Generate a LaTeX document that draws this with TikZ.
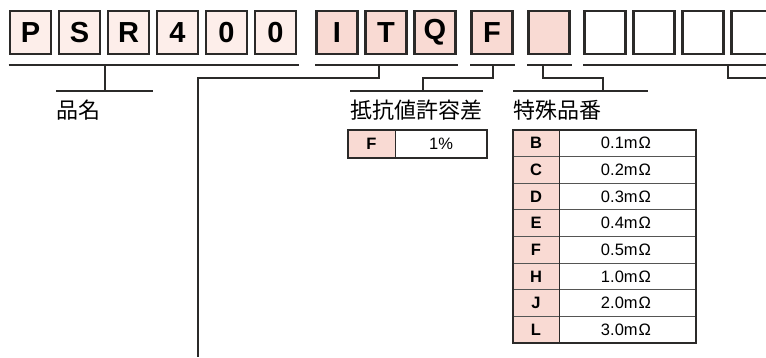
\documentclass[tikz,border=0pt]{standalone}
\usepackage{fontspec}
\setmainfont{Liberation Sans}
\newfontfamily\jpfont{Noto Sans CJK JP}
\definecolor{rosachiaro}{HTML}{FDEEEA}
\definecolor{rosa}{HTML}{F9DAD3}
\definecolor{bordo}{HTML}{2B2A29}
\tikzset{
  casella/.style={draw=bordo, line width=2.4pt, minimum width=41pt, minimum height=42.5pt, inner sep=0pt, font=\fontsize{29}{31}\selectfont\bfseries},
  staffa/.style={draw=bordo, line width=2.6pt},
  etichetta/.style={anchor=west, inner sep=0pt, font=\jpfont\fontsize{22}{24}\selectfont},
  chiave/.style={inner sep=0pt, font=\fontsize{16.5}{18}\selectfont\bfseries},
  valore/.style={inner sep=0pt, font=\fontsize{16.5}{18}\selectfont},
}
\begin{document}
\begin{tikzpicture}[x=1pt,y=-1pt]
    \useasboundingbox (0,0) rectangle (766,357);

    %caselle del codice
    \foreach \c [count=\i] in {P,S,R,4,0,0}
        \node[casella, fill=rosachiaro] (c\i) at ({30.5+49*(\i-1)},32.5) {\c};
    \node[casella, fill=rosa] (ci) at (337,32.5) {I};
    \node[casella, fill=rosa] (ct) at (386,32.5) {T};
    \node[casella, fill=rosa] (cq) at (435,32.5) {Q};
    \node[casella, fill=rosa] (cf) at (492,32.5) {F};
    \node[casella, fill=rosa] (cs) at (549,32.5) {};
    \foreach \x [count=\i] in {605,654,703,752}
        \node[casella, fill=white] (e\i) at (\x,32.5) {};

    %staffe
    \draw[staffa] (8.5,65)--(298.5,65);
    \draw[staffa] (105,65)--(105,91);
    \draw[staffa] (56,91)--(153,91);
    \draw[staffa] (315,65)--(458,65);
    \draw[staffa] (379,65)--(379,78)--(198,78)--(198,357);
    \draw[staffa] (470,65)--(515,65);
    \draw[staffa] (493,65)--(493,78)--(423,78)--(423,91);
    \draw[staffa] (350,91)--(483,91);
    \draw[staffa] (527,65)--(572,65);
    \draw[staffa] (543,65)--(543,78)--(603,78)--(603,91);
    \draw[staffa] (513,91)--(648,91);
    \draw[staffa] (583,65)--(766,65);
    \draw[staffa] (728,65)--(728,78)--(766,78);

    %etichette
    \node[etichetta] (nome) at (56,110) {品名};
    \node[etichetta] (toll) at (350,110) {抵抗値許容差};
    \node[etichetta] (spec) at (513,110) {特殊品番};

    %tabella tolleranza
    \fill[rosa] (348,130) rectangle (395,158);
    \draw[bordo, line width=1pt] (395,130)--(395,158);
    \draw[bordo, line width=1.8pt] (348,130) rectangle (487,158);
    \node[chiave] (tf) at (371.5,143.5) {F};
    \node[valore] (tv) at (441,143.5) {1\%};

    %tabella codici speciali
    \fill[rosa] (513,130) rectangle (559,343);
    \foreach \i in {1,...,7}
        \draw[bordo!80, line width=1pt] (513,{130+26.625*\i})--(696,{130+26.625*\i});
    \draw[bordo, line width=1pt] (559,130)--(559,343);
    \draw[bordo, line width=1.8pt] (513,130) rectangle (696,343);
    \foreach \k/\v [count=\i] in {B/0.1,C/0.2,D/0.3,E/0.4,F/0.5,H/1.0,J/2.0,L/3.0} {
        \node[chiave] (k\i) at (536,{130+26.625*(\i-0.5)}) {\k};
        \node[valore] (v\i) at (626,{130+26.625*(\i-0.5)}) {\v m\kern1ptΩ};
    }
\end{tikzpicture}
\end{document}
